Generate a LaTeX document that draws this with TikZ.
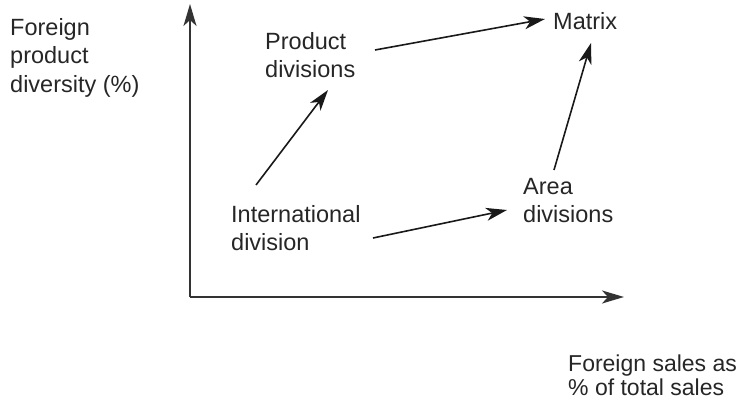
\documentclass[tikz,border=0pt]{standalone}
\usepackage{fontspec}
\setmainfont{Liberation Sans}
\usetikzlibrary{arrows.meta,calc}
\tikzset{
  lbl/.style={font=\fontsize{23.5}{28.5}\selectfont, align=left, inner sep=0pt, anchor=north west, text=black!85},
  axis/.style={line width=2.2pt, draw=black!80, -{Stealth[length=22pt,width=13pt,inset=6pt]}},
  flow/.style={line width=1.6pt, draw=black!90, -{Stealth[length=21pt,width=13pt,inset=6pt]}}
}
\begin{document}
\begin{tikzpicture}[x=1pt,y=-1pt]
\useasboundingbox (0,0) rectangle (748,403);
% axes
\coordinate (O) at (190,297);
\coordinate (ytip) at (190,4);
\coordinate (xtip) at (624,297);
\draw[axis] (O) -- (ytip);
\draw[axis] (O) -- (xtip);
% labels
\node[lbl] (ylab) at (10,18) {Foreign\\product\\diversity (\%)};
\node[lbl, font=\fontsize{23}{24}\selectfont] (xlab) at (568,355) {Foreign sales as\\\% of total sales};
\node[lbl] (prod) at (265,32) {Product\\divisions};
\node[lbl] (matrix) at (553,12) {Matrix};
\node[lbl] (intl) at (231,205) {International\\division};
\node[lbl] (area) at (523,178) {Area\\divisions};
% connectors
\draw[flow] ($(intl.north west)+(25,-20)$) -- ($(prod.north west)+(63,58)$);
\draw[flow] ($(prod.north west)+(110,18)$) -- ($(matrix.north west)+(-8,7)$);
\draw[flow] ($(intl.north west)+(142,33)$) -- ($(area.north west)+(-16,32)$);
\draw[flow] ($(area.north west)+(31,-8)$) -- ($(matrix.north west)+(38,31)$);
\end{tikzpicture}
\end{document}
